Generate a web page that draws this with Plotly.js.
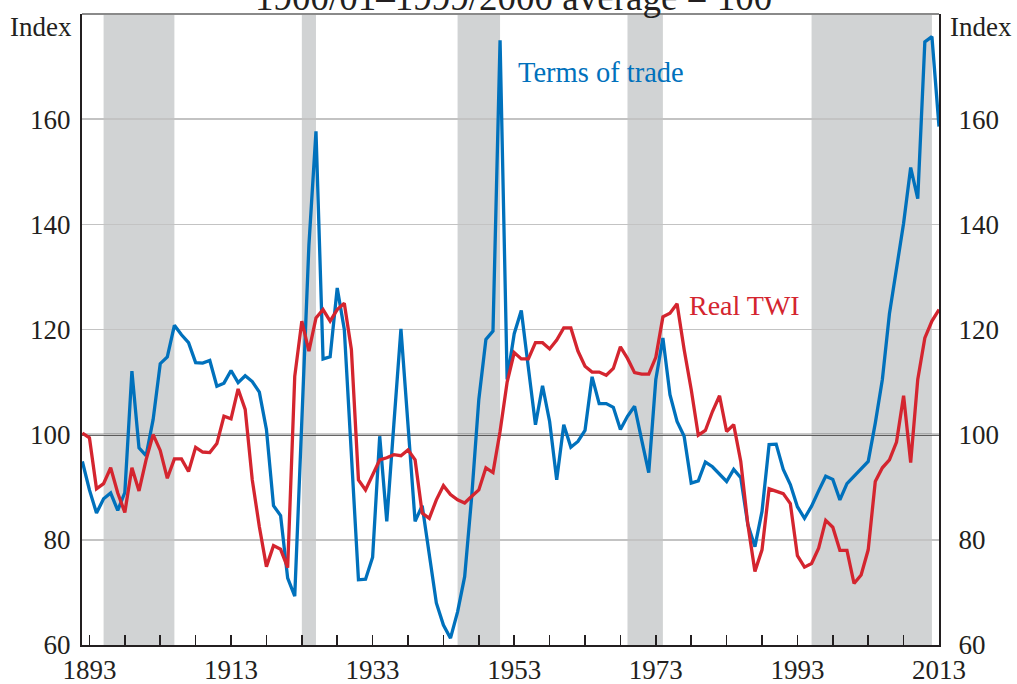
<!DOCTYPE html>
<html>
<head>
<meta charset="utf-8">
<script src="https://cdn.plot.ly/plotly-3.0.1.min.js"></script>
<style>
  html, body { margin: 0; padding: 0; background: #fff; }
  #chart { width: 1017px; height: 684px; }
</style>
</head>
<body>
<div id="chart"></div>
<script>
// years 1892 .. 2013
const first_year = 1892;

// terms of trade, index 1900/01-1999/2000 average = 100
const terms_of_trade = [
  94.9, 89.5, 85.1, 87.8, 88.9, 85.6, 89.0, 112.1, 97.5, 96.0,      // 1892-1901
  102.9, 113.5, 114.8, 120.8, 119.0, 117.5, 113.7, 113.6, 114.1, 109.2, // 1902-1911
  109.8, 112.2, 109.9, 111.2, 110.1, 108.1, 101.0, 86.5, 84.6, 72.7,   // 1912-1921
  69.3, 103.0, 136.0, 157.7, 114.4, 114.8, 127.9, 120.0, 96.0, 72.4,   // 1922-1931
  72.5, 76.7, 99.7, 83.5, 102.0, 120.1, 101.8, 83.5, 86.5, 77.5,       // 1932-1941
  68.0, 63.8, 61.3, 66.3, 73.0, 88.3, 106.7, 118.1, 119.7, 175.0,      // 1942-1951
  110.5, 119.2, 123.6, 112.7, 101.9, 109.3, 102.5, 91.4, 101.9, 97.6,  // 1952-1961
  98.7, 100.8, 111.0, 105.9, 105.9, 105.2, 101.0, 103.5, 105.4, 99.0,  // 1962-1971
  92.8, 110.5, 118.4, 107.6, 102.5, 99.7, 90.8, 91.2, 94.8, 93.9,      // 1972-1981
  92.5, 91.1, 93.4, 91.8, 82.9, 78.7, 85.4, 98.1, 98.2, 93.4,          // 1982-1991
  90.5, 86.3, 84.1, 86.4, 89.3, 92.1, 91.5, 87.6, 90.7, 92.1,          // 1992-2001
  93.7, 94.9, 102.2, 110.5, 123.0, 132.1, 140.2, 150.8, 144.9, 174.7,  // 2002-2011
  175.7, 158.6                                                          // 2012-2013
];

// real trade-weighted index
const real_twi = [
  100.3, 99.4, 89.7, 90.7, 93.7, 88.9, 85.2, 93.7, 89.3, 95.2,         // 1892-1901
  100.0, 97.0, 91.7, 95.4, 95.4, 93.0, 97.6, 96.7, 96.6, 98.3,         // 1902-1911
  103.5, 103.0, 108.7, 104.8, 91.4, 82.5, 74.9, 78.9, 78.2, 74.7,      // 1912-1921
  111.1, 121.6, 115.9, 122.2, 123.8, 121.6, 123.8, 125.0, 116.2, 91.4, // 1922-1931
  89.5, 92.4, 95.2, 95.6, 96.2, 96.0, 97.1, 95.2, 85.1, 84.1,          // 1932-1941
  87.6, 90.3, 88.6, 87.6, 87.0, 88.3, 89.5, 93.7, 92.8, 100.6,         // 1942-1951
  110.0, 115.6, 114.4, 114.4, 117.5, 117.5, 116.3, 118.0, 120.3, 120.3, // 1952-1961
  115.9, 113.0, 111.9, 111.9, 111.3, 112.6, 116.7, 114.5, 111.8, 111.5, // 1962-1971
  111.5, 114.7, 122.4, 123.1, 124.9, 116.2, 108.6, 99.9, 100.8, 104.4, // 1972-1981
  107.4, 100.6, 101.9, 94.9, 82.9, 74.0, 78.1, 89.7, 89.2, 88.8,       // 1982-1991
  86.9, 77.0, 74.8, 75.5, 78.4, 83.7, 82.4, 78.0, 78.0, 71.7,          // 1992-2001
  73.3, 78.1, 91.1, 93.7, 95.2, 98.6, 107.4, 94.7, 110.5, 118.4,       // 2002-2011
  121.6, 123.8                                                          // 2012-2013
];

// shaded periods
const band_starts = [1895, 1923, 1945, 1969, 1995];
const band_ends   = [1905, 1925, 1951, 1974, 2012];

const y_ticks = [60, 80, 100, 120, 140, 160];
const x_ticks = [];
for (let yr = 1893; yr <= 2013; yr += 5) x_ticks.push(yr);
const x_labels = x_ticks.map(yr => ((yr - 1893) % 20 == 0) ? String(yr) : '');

const years = terms_of_trade.map((v, i) => first_year + i);

const ink = '#231f20';
const blue = '#0071bc';
const red = '#d4252f';
const serif = 'Liberation Serif, Times New Roman, serif';

const tot_trace = {
  x: years, y: terms_of_trade,
  type: 'scatter', mode: 'lines',
  line: {color: blue, width: 3.3},
  hoverinfo: 'x+y', name: 'Terms of trade'
};
const twi_trace = {
  x: years, y: real_twi,
  type: 'scatter', mode: 'lines',
  line: {color: red, width: 3.3},
  hoverinfo: 'x+y', name: 'Real TWI'
};
// carries the right hand axis
const right_axis_trace = {
  x: years, y: real_twi,
  type: 'scatter', mode: 'lines', yaxis: 'y2',
  line: {color: 'rgba(0,0,0,0)', width: 0},
  hoverinfo: 'skip', showlegend: false
};

let shapes = [];
for (let i = 0; i < band_starts.length; i++) {
  shapes.push({
    type: 'rect', xref: 'x', yref: 'paper',
    x0: band_starts[i], x1: band_ends[i], y0: 0, y1: 1,
    fillcolor: '#d1d3d4', line: {width: 0}, layer: 'below'
  });
}
// the 100 line
shapes.push({
  type: 'line', xref: 'paper', yref: 'y',
  x0: 0, x1: 1, y0: 100, y1: 100,
  line: {color: '#333333', width: 2}, layer: 'between'
});
// top border
shapes.push({
  type: 'line', xref: 'paper', yref: 'paper',
  x0: 0, x1: 1, y0: 1, y1: 1,
  line: {color: '#8a8a8a', width: 2}
});

const tick_font = {family: serif, size: 27, color: ink};

const layout = {
  width: 1017, height: 684,
  margin: {l: 82, r: 78, t: 14, b: 39},
  paper_bgcolor: '#fff', plot_bgcolor: 'rgba(0,0,0,0)',
  showlegend: false,
  font: {family: serif, color: ink},
  xaxis: {
    range: [1891.95, 2013],
    tickmode: 'array', tickvals: x_ticks, ticktext: x_labels,
    ticks: 'inside', ticklen: 10, tickwidth: 1.5, tickcolor: ink,
    showline: true, linecolor: ink, linewidth: 2,
    showgrid: false, zeroline: false,
    tickfont: tick_font
  },
  yaxis: {
    range: [60, 180],
    tickmode: 'array', tickvals: y_ticks,
    ticks: '', showline: true, linecolor: ink, linewidth: 2,
    showgrid: true, gridcolor: '#c3c3c3', gridwidth: 1.5,
    zeroline: false, ticklabelstandoff: 4,
    tickfont: tick_font
  },
  yaxis2: {
    range: [60, 180], overlaying: 'y', side: 'right',
    tickmode: 'array', tickvals: y_ticks,
    ticks: '', showline: true, linecolor: ink, linewidth: 2,
    showgrid: false, zeroline: false, ticklabelstandoff: 12,
    tickfont: tick_font
  },
  shapes: shapes,
  annotations: [
    {text: '1900/01–1999/2000 average = 100', xref: 'paper', yref: 'paper',
     x: 0.503, y: 1, xanchor: 'center', yanchor: 'bottom', yshift: -6,
     showarrow: false, font: {family: serif, size: 37, color: ink}},
    {text: 'Index', xref: 'paper', yref: 'paper', x: -0.0478, y: 0.979,
     xanchor: 'center', yanchor: 'middle', showarrow: false,
     font: {family: serif, size: 27, color: ink}},
    {text: 'Index', xref: 'paper', yref: 'paper', x: 1.049, y: 0.979,
     xanchor: 'center', yanchor: 'middle', showarrow: false,
     font: {family: serif, size: 27, color: ink}},
    {text: 'Terms of trade', xref: 'paper', yref: 'paper', x: 0.6056, y: 0.908,
     xanchor: 'center', yanchor: 'middle', showarrow: false,
     font: {family: serif, size: 28.5, color: blue}},
    {text: 'Real TWI', xref: 'paper', yref: 'paper', x: 0.7736, y: 0.5388,
     xanchor: 'center', yanchor: 'middle', showarrow: false,
     font: {family: serif, size: 28, color: red}}
  ]
};

Plotly.newPlot('chart', [tot_trace, twi_trace, right_axis_trace], layout,
  {displayModeBar: false, staticPlot: true});
</script>
</body>
</html>
